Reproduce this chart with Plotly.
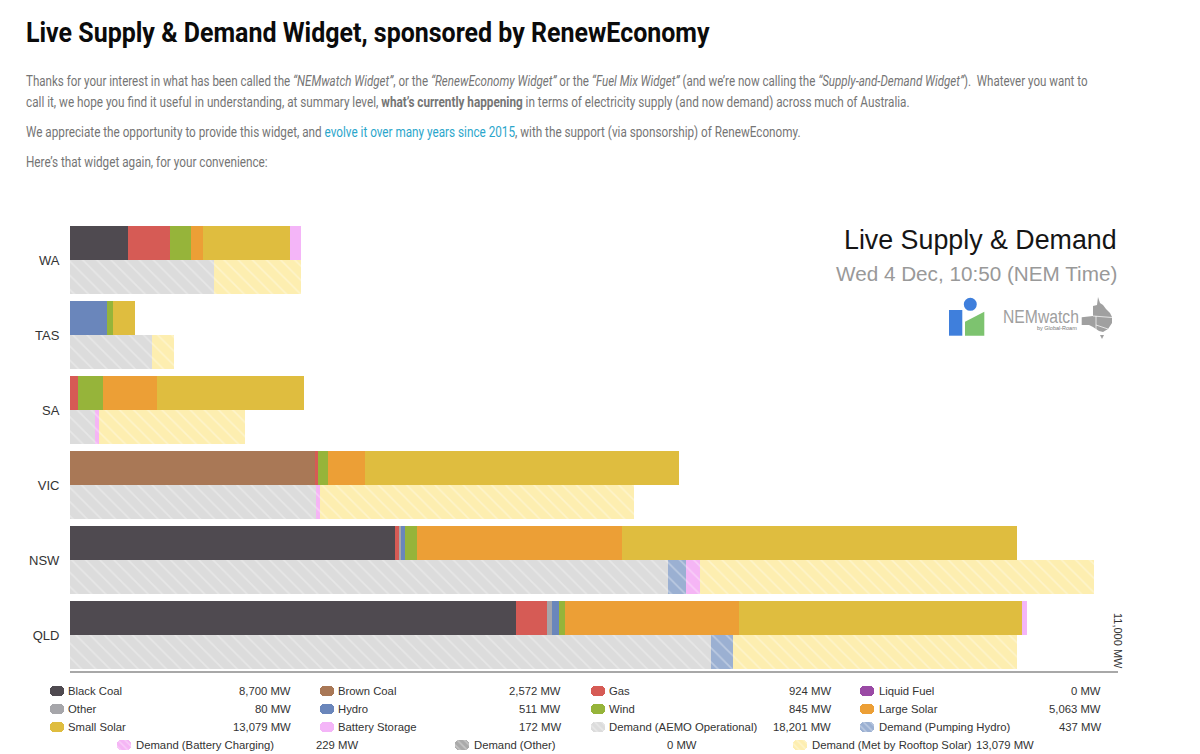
import plotly.graph_objects as go

W, H = 1200, 754

# ---------- data ----------
states = ["WA", "TAS", "SA", "VIC", "NSW", "QLD"]
black_coal = [606, 0, 0, 0, 3413, 4683]
brown_coal = [0, 0, 0, 2572, 0, 0]
gas = [444, 0, 84, 30, 42, 322]
liquid_fuel = [0, 0, 0, 0, 0, 0]
other = [0, 0, 0, 0, 14, 56]
hydro = [0, 386, 0, 0, 42, 74]
wind = [221, 66, 266, 108, 133, 60]
large_solar = [123, 0, 561, 389, 2150, 1823]
small_solar = [913, 234, 1547, 3297, 4150, 2972]
battery = [119, 0, 0, 0, 0, 53]

d_operational = [1515, 858, 262, 2582, 6276, 6724]
d_pumping = [0, 0, 0, 0, 185, 238]
d_charging = [0, 0, 39, 42, 147, 0]
d_other = [0, 0, 0, 0, 0, 0]
d_rooftop = [910, 231, 1540, 3295, 4144, 2982]

legend_names = [
    ["Black Coal", "Brown Coal", "Gas", "Liquid Fuel"],
    ["Other", "Hydro", "Wind", "Large Solar"],
    ["Small Solar", "Battery Storage", "Demand (AEMO Operational)", "Demand (Pumping Hydro)"],
    ["Demand (Battery Charging)", "Demand (Other)", "Demand (Met by Rooftop Solar)"],
]
legend_totals = [
    [8700, 2572, 924, 0],
    [80, 511, 845, 5063],
    [13079, 172, 18201, 437],
    [229, 0, 13079],
]
axis_max = 11000

# ---------- styles ----------
colors = {
    "Black Coal": "#4f4a50", "Brown Coal": "#a97856", "Gas": "#d65b55",
    "Liquid Fuel": "#9a4aa5", "Other": "#a6a6aa", "Hydro": "#6a86bb",
    "Wind": "#96b43a", "Large Solar": "#ec9f36", "Small Solar": "#dfbd3f",
    "Battery Storage": "#f4b5f8", "Demand (AEMO Operational)": "#dcdcdc",
    "Demand (Pumping Hydro)": "#9bb0d2", "Demand (Battery Charging)": "#f5b5f5",
    "Demand (Other)": "#aaaaaa", "Demand (Met by Rooftop Solar)": "#fdeeb0",
}
supply = [("Black Coal", black_coal), ("Brown Coal", brown_coal), ("Gas", gas),
          ("Liquid Fuel", liquid_fuel), ("Other", other), ("Hydro", hydro),
          ("Wind", wind), ("Large Solar", large_solar), ("Small Solar", small_solar),
          ("Battery Storage", battery)]
demand = [("Demand (AEMO Operational)", d_operational), ("Demand (Pumping Hydro)", d_pumping),
          ("Demand (Battery Charging)", d_charging), ("Demand (Other)", d_other),
          ("Demand (Met by Rooftop Solar)", d_rooftop)]


def hatch(color, size=10, solidity=0.16):
    return dict(shape="\\", bgcolor=color, fgcolor="rgba(255,255,255,0.65)", size=size,
                solidity=solidity, fillmode="overlay")


fig = go.Figure()
PERIOD = 75.0
OFF = 17 / PERIOD
THICK = 33.5 / PERIOD
idx = list(range(len(states)))
for name, vals in supply:
    fig.add_trace(go.Bar(x=vals, y=[i - OFF for i in idx], orientation="h", width=THICK,
                         marker=dict(color=colors[name], line_width=0), name=name,
                         showlegend=False, hoverinfo="x+name"))
for name, vals in demand:
    fig.add_trace(go.Bar(x=vals, y=[i + OFF for i in idx], orientation="h", width=THICK,
                         marker=dict(color=colors[name], line_width=0, pattern=hatch(colors[name])),
                         name=name, showlegend=False, hoverinfo="x+name"))

annotations = []


def text(x, y, s, size, color, anchor="left", family="Liberation Sans"):
    annotations.append(dict(x=x, y=y, xref="x2", yref="y2", text=s, showarrow=False,
                            xanchor=anchor, yanchor="middle", align=anchor,
                            xshift=-2 if anchor == "left" else 2,
                            font=dict(family=family, size=size, color=color)))


# ---------- page text ----------
BODY = "#757575"
text(26, 32, "<b>Live Supply &amp; Demand Widget, sponsored by RenewEconomy</b>", 28, "#0b0b0b", family="Roboto")
text(26, 81, "Thanks for your interest in what has been called the <i>“NEMwatch Widget”</i>, or the "
             "<i>“RenewEconomy Widget”</i> or the <i>“Fuel Mix Widget”</i> (and we’re now calling the "
             "<i>“Supply-and-Demand Widget”</i>).  Whatever you want to", 14, BODY, family="Roboto")
text(26, 102, "call it, we hope you find it useful in understanding, at summary level, "
              "<b>what’s currently happening</b> in terms of electricity supply (and now demand) "
              "across much of Australia.", 14, BODY, family="Roboto")
text(26, 132, "We appreciate the opportunity to provide this widget, and "
              "<span style='color:#2ba6cb'>evolve it over many years since 2015</span>, "
              "with the support (via sponsorship) of RenewEconomy.", 14, BODY, family="Roboto")
text(26, 162, "Here’s that widget again, for your convenience:", 14, BODY, family="Roboto")

text(1117, 240, "Live Supply &amp; Demand", 26.8, "#151515", anchor="right")
text(1117, 273, "Wed 4 Dec, 10:50 (NEM Time)", 20.7, "#999999", anchor="right")
text(1003, 316, "NEMwatch", 19, "#a0a0a0")
text(1037, 328, "by Global-Roam", 5.5, "#777777")

# rotated end-of-axis label
annotations.append(dict(x=axis_max, y=641, xref="x", yref="y2", text=f"{axis_max:,} MW", showarrow=False,
                        textangle=90, xanchor="center", yanchor="middle",
                        font=dict(family="Liberation Sans", size=11, color="#333333")))

# ---------- legend: swatch x, label x, value x, value anchor ----------
legend_columns = [(50, 68, 291), (320, 338, 561), (591, 609, 831), (860, 879, 1101)]
last_columns = [(117, 136, 316, "left"), (455, 474, 697, "right"), (793, 812, 1034, "right")]
legend_rows = [691, 709, 727, 745]
for r, names in enumerate(legend_names):
    for c, nm in enumerate(names):
        if r < 3:
            sx, tx, vx = legend_columns[c]
            va = "right"
        else:
            sx, tx, vx, va = last_columns[c]
        text(tx, legend_rows[r], nm, 11.3, "#333333")
        text(vx, legend_rows[r], f"{legend_totals[r][c]:,} MW", 11.3, "#333333", anchor=va)
        fig.add_trace(go.Bar(
            x=[14], y=[legend_rows[r] + c * 0.01], base=[sx], width=10, orientation="h",
            xaxis="x2", yaxis="y2",
            marker=dict(color=colors[nm], line_width=0, cornerradius=4,
                        pattern=hatch(colors[nm], 5, 0.3) if nm.startswith("Demand") else None),
            showlegend=False, hoverinfo="skip"))

# ---------- logo shapes ----------
shapes = []


def shape(path, fill):
    shapes.append(dict(type="path", path=path, xref="x2", yref="y2", fillcolor=fill, line_width=0))


def border(path):
    shapes.append(dict(type="path", path=path, xref="x2", yref="y2", line=dict(color="white", width=0.7)))


shape("M949,310 L962.3,310 L962.3,335.7 L949,335.7 Z", "#3f7fdc")
shapes.append(dict(type="circle", xref="x2", yref="y2", x0=963.8, x1=976.8, y0=297.8, y1=310.8,
                   fillcolor="#3f7fdc", line_width=0))
shape("M965,321.7 L984.3,311.7 L984.3,335.7 L965,335.7 Z", "#7dc36f")
shape("M1098,297 L1100,303 L1103,305 L1106,309 L1110,313 L1112,317 L1112,323 L1108,329 L1103,332 "
      "L1099,331 L1093,327 L1089,325 L1081.7,325 L1081.7,317.3 L1093,316 L1093,306 L1097,305 Z", "#a0a0a0")
border("M1093,316 L1112,317.5")
border("M1096,316 L1096,330")
border("M1096,325 L1108,329")
shape("M1100,335 L1104,335 L1102,339 Z", "#a0a0a0")

fig.update_layout(
    width=W, height=H, margin=dict(l=0, r=0, t=0, b=0), autosize=False,
    paper_bgcolor="white", plot_bgcolor="rgba(0,0,0,0)", barmode="stack",
    hovermode="closest",
    xaxis=dict(domain=[70 / W, 1118 / W], range=[0, axis_max], anchor="y", side="bottom",
               showgrid=False, zeroline=False, showline=True, linecolor="#a8a8a8", linewidth=1.5,
               showticklabels=False, ticks=""),
    yaxis=dict(domain=[1 - 671 / H, 1 - 219 / H], range=[(671 - 260) / PERIOD, (219 - 260) / PERIOD],
               anchor="x", tickmode="array", tickvals=idx, ticktext=states, showgrid=False,
               zeroline=False, showline=False, ticks="outside", ticklen=7, tickcolor="white",
               tickfont=dict(family="Liberation Sans", size=13, color="#333333")),
    xaxis2=dict(domain=[0, 1], range=[0, W], anchor="y2", visible=False, fixedrange=True),
    yaxis2=dict(domain=[0, 1], range=[H, 0], anchor="x2", visible=False, fixedrange=True),
    annotations=annotations, shapes=shapes,
)

# The reference's page text is a condensed face; no condensed font is installed, so the
# real Roboto text is narrowed horizontally to each line's measured width.
post = """
document.body.style.margin='0';document.body.style.overflow='hidden';
var targets=[['Live Supply & Demand Widget',685],['Thanks for your',1063],['call it, we',885],
             ['We appreciate',775],['Here',242],['NEMwatch',76]];
document.querySelectorAll('.annotation-text').forEach(function(t){
  var s=t.textContent;
  targets.forEach(function(p){
    if(s.indexOf(p[0])===0){
      var b=t.getBBox(),k=p[1]/b.width;
      t.setAttribute('transform','translate('+b.x+',0) scale('+k+',1) translate('+(-b.x)+',0)');
    }
  });
});
"""
fig.write_html("out.html", post_script=post, config={"displayModeBar": False})
